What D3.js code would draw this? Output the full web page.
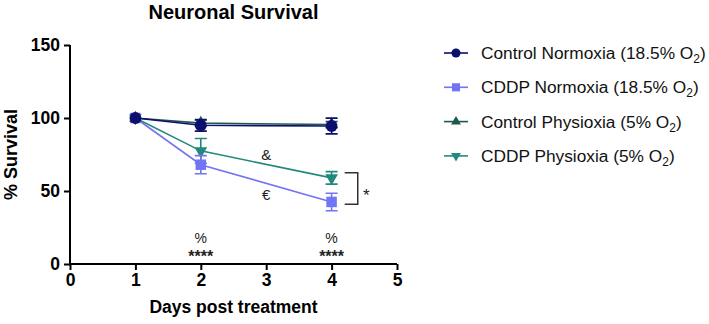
<!DOCTYPE html>
<html>
<head>
<meta charset="utf-8">
<script src="https://cdn.jsdelivr.net/npm/d3@7"></script>
<style>
	body { margin: 0; background: #fff; }
	svg { font-family: Arial, 'Liberation Sans', sans-serif; }
</style>
</head>
<body>
<div id="chart"></div>
<script>
const days = [1, 2, 4];
const controlNormoxia = [100, 95, 94.5];
const controlNormoxiaErr = [1, 4, 5.4];
const cddpNormoxia = [100, 68, 42.5];
const cddpNormoxiaErr = [1, 6.2, 6];
const controlPhysioxia = [100, 96.5, 95.5];
const controlPhysioxiaErr = [1, 2, 2];
const cddpPhysioxia = [100, 77.5, 59];
const cddpPhysioxiaErr = [1, 8.5, 4.3];
const xTicks = [0, 1, 2, 3, 4, 5];
const yTicks = [0, 50, 100, 150];

const series = [
	{ name: 'Control Normoxia (18.5% O', sub: '2', tail: ')', values: controlNormoxia, err: controlNormoxiaErr, color: '#0c0f6e', symbol: d3.symbolCircle, size: 110 },
	{ name: 'CDDP Normoxia (18.5% O', sub: '2', tail: ')', values: cddpNormoxia, err: cddpNormoxiaErr, color: '#7373f5', symbol: d3.symbolSquare, size: 110 },
	{ name: 'Control Physioxia (5% O', sub: '2', tail: ')', values: controlPhysioxia, err: controlPhysioxiaErr, color: '#1d5a4e', symbol: d3.symbolTriangle, size: 70 },
	{ name: 'CDDP Physioxia (5% O', sub: '2', tail: ')', values: cddpPhysioxia, err: cddpPhysioxiaErr, color: '#23897d', symbol: d3.symbolTriangle, size: 70, flip: true }
];

const W = 709, H = 324;
const svg = d3.select('#chart').append('svg').attr('width', W).attr('height', H);

const x = d3.scaleLinear().domain([0, 5]).range([70, 397]);
const y = d3.scaleLinear().domain([0, 150]).range([264, 45]);
const cx = (x(0) + x(5)) / 2;

// axes
const xAxis = svg.append('g')
	.attr('transform', `translate(0,${y(0)})`)
	.call(d3.axisBottom(x).tickValues(xTicks).tickSize(6).tickPadding(4).tickFormat(d3.format('d')));
const yAxis = svg.append('g')
	.attr('transform', `translate(${x(0)},0)`)
	.call(d3.axisLeft(y).tickValues(yTicks).tickSize(6).tickPadding(4));
[xAxis, yAxis].forEach((a) => {
	a.select('.domain').attr('stroke', '#000').attr('stroke-width', 2);
	a.selectAll('.tick line').attr('stroke', '#000').attr('stroke-width', 2);
	a.selectAll('.tick text').attr('fill', '#000').style('font-size', '17.5px').style('font-weight', 'bold');
});
yAxis.select('.domain').attr('d', `M0,${y(150)}V${y(0)}`);
xAxis.select('.domain').attr('d', `M${x(0)},0H${x(5)}`);

const line = d3.line().x((d) => x(d.day)).y((d) => y(d.v));

// draw back to front so Control Normoxia is on top
[3, 1, 2, 0].forEach((i) => {
	const s = series[i];
	const pts = days.map((day, k) => ({ day, v: s.values[k], e: s.err[k] }));
	const g = svg.append('g');
	g.append('path').datum(pts).attr('fill', 'none').attr('stroke', s.color).attr('stroke-width', 1.6).attr('d', line);
	pts.forEach((p) => {
		if (p.e > 1.5) {
			g.append('path')
				.attr('d', `M${x(p.day)},${y(p.v + p.e)}V${y(p.v - p.e)}M${x(p.day) - 6},${y(p.v + p.e)}h12M${x(p.day) - 6},${y(p.v - p.e)}h12`)
				.attr('stroke', s.color).attr('stroke-width', 1.6).attr('fill', 'none');
		}
	});
	g.selectAll('.pt').data(pts).enter().append('path')
		.attr('transform', (d) => `translate(${x(d.day)},${y(d.v)})${s.flip ? ' rotate(180)' : ''}`)
		.attr('d', d3.symbol().type(s.symbol).size(s.size))
		.attr('fill', s.color);
});

// annotations
const ann = svg.append('g').attr('fill', '#222').style('font-size', '15px').attr('text-anchor', 'middle');
ann.append('text').attr('x', x(3)).attr('y', y(71)).text('&');
ann.append('text').attr('x', x(3)).attr('y', y(43.5)).text('€');
[2, 4].forEach((d) => {
	ann.append('text').attr('x', x(d)).attr('y', y(14.3)).style('font-size', '14px').text('%');
	ann.append('text').attr('x', x(d)).attr('y', y(1.5)).style('font-size', '16px').style('font-weight', 'bold').text('****');
});
svg.append('path')
	.attr('d', `M${x(4.2)},${y(62.5)}H${x(4.4)}V${y(41)}H${x(4.2)}`)
	.attr('fill', 'none').attr('stroke', '#333').attr('stroke-width', 1.5);
ann.append('text').attr('x', x(4.53)).attr('y', y(43)).style('font-size', '17px').text('*');

// titles
svg.append('text').attr('x', cx).attr('y', 19).attr('text-anchor', 'middle')
	.style('font-size', '20px').style('font-weight', 'bold').text('Neuronal Survival');
svg.append('text').attr('x', cx).attr('y', 313).attr('text-anchor', 'middle')
	.style('font-size', '17.5px').style('font-weight', 'bold').text('Days post treatment');
svg.append('text').attr('transform', `translate(17,${(y(0) + y(150)) / 2}) rotate(-90)`).attr('text-anchor', 'middle')
	.style('font-size', '18px').style('font-weight', 'bold').text('% Survival');

// legend
const legend = svg.append('g').attr('transform', 'translate(444,53)');
const items = legend.selectAll('g').data(series).enter().append('g')
	.attr('transform', (d, i) => `translate(0,${i * 34.3})`);
items.append('line').attr('x1', 0).attr('x2', 24).attr('stroke', (d) => d.color).attr('stroke-width', 1.6);
items.append('path')
	.attr('transform', (d) => `translate(12,0)${d.flip ? ' rotate(180)' : ''}`)
	.attr('d', (d) => d3.symbol().type(d.symbol).size(d.size * 0.6)())
	.attr('fill', (d) => d.color);
const lt = items.append('text').attr('x', 37).attr('y', 6).style('font-size', '17.3px').attr('fill', '#111');
lt.append('tspan').text((d) => d.name);
lt.append('tspan').attr('dy', 4).style('font-size', '12px').text((d) => d.sub);
lt.append('tspan').attr('dy', -4).text((d) => d.tail);
</script>
</body>
</html>
